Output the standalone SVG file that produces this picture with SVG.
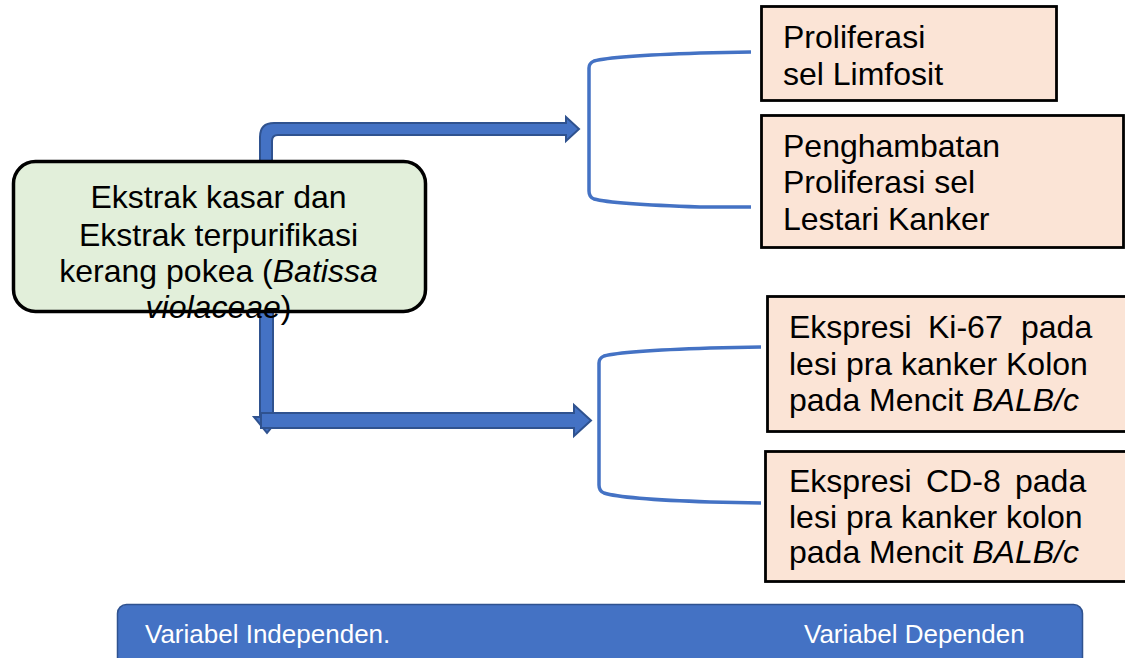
<svg xmlns="http://www.w3.org/2000/svg" width="1125" height="658" viewBox="0 0 1125 658">
<style>
text{font-family:"Liberation Sans",Arial,sans-serif;fill:#000}
.t{font-size:32px}
.it{font-style:italic}
.box{fill:#fbe4d6;stroke:#000;stroke-width:2.8}
.arrow{fill:#4472c4;stroke:#2f528f;stroke-width:2;stroke-linejoin:miter}
.brk{fill:none;stroke:#4472c4;stroke-width:3.5}
.bar{fill:#4472c4;stroke:#2f528f;stroke-width:1.5}
.bt{font-size:26px;fill:#fff}
</style>
<rect width="1125" height="658" fill="#fff"/>
<g id="connectors">
<path class="arrow" d="M260 162 L260 137 Q260 123 274 123 L566 123 L566 117 L579 129 L566 141 L566 135 L278 135 Q272 135 272 141 L272 162 Z"/>
<path class="arrow" d="M260 312 L260 417 L254 417 L267 433 L280 417 L273 417 L273 312 Z"/>
<path class="arrow" d="M261 413 L574 413 L574 405 L591 420.5 L574 436 L574 428 L261 428 Z"/>
<path class="brk" d="M751 52 L700 53 Q612 56 594 61 Q589 63 589 68 L589 191 Q589 197 594 199 Q612 204 700 207 L751 207"/>
<path class="brk" d="M761 347 L710 348 Q622 351 604 356 Q599 358 599 363 L599 485 Q599 491 604 493 Q622 499 710 502 L761 503"/>
</g>
<g id="node-source">
<rect x="13.5" y="161.5" width="412" height="150" rx="22" fill="#e2efda" stroke="#000" stroke-width="3.5"/>
<text class="t" text-anchor="middle" x="218.5" y="208">Ekstrak kasar dan</text>
<text class="t" text-anchor="middle" x="218.5" y="246">Ekstrak terpurifikasi</text>
<text class="t" text-anchor="middle" x="218.5" y="282">kerang pokea (<tspan class="it">Batissa</tspan></text>
<text class="t" text-anchor="middle" x="218.5" y="318"><tspan class="it">violaceae</tspan>)</text>
</g>
<g id="node-proliferasi">
<rect class="box" x="761.5" y="6.5" width="295" height="94"/>
<text class="t" x="783" y="48">Proliferasi</text>
<text class="t" x="783" y="85">sel Limfosit</text>
</g>
<g id="node-penghambatan">
<rect class="box" x="761.5" y="115.5" width="362" height="132"/>
<text class="t" x="783" y="157">Penghambatan</text>
<text class="t" x="783" y="193">Proliferasi sel</text>
<text class="t" x="783" y="230">Lestari Kanker</text>
</g>
<g id="node-ki67">
<rect class="box" x="767.5" y="296.5" width="362" height="135"/>
<text class="t" x="789" y="338">Ekspresi</text>
<text class="t" x="928" y="338">Ki-67</text>
<text class="t" x="1021" y="338">pada</text>
<text class="t" x="789" y="375">lesi pra kanker Kolon</text>
<text class="t" x="789" y="411">pada Mencit <tspan class="it">BALB/c</tspan></text>
</g>
<g id="node-cd8">
<rect class="box" x="765.5" y="451.5" width="364" height="130"/>
<text class="t" x="789" y="492">Ekspresi</text>
<text class="t" x="926" y="492">CD-8</text>
<text class="t" x="1015" y="492">pada</text>
<text class="t" x="789" y="528">lesi pra kanker kolon</text>
<text class="t" x="789" y="563">pada Mencit <tspan class="it">BALB/c</tspan></text>
</g>
<g id="legend-bar">
<rect class="bar" x="117.5" y="604.5" width="965" height="70" rx="9"/>
<text class="bt" x="145" y="643">Variabel Independen.</text>
<text class="bt" x="804" y="643">Variabel Dependen</text>
</g>
</svg>
